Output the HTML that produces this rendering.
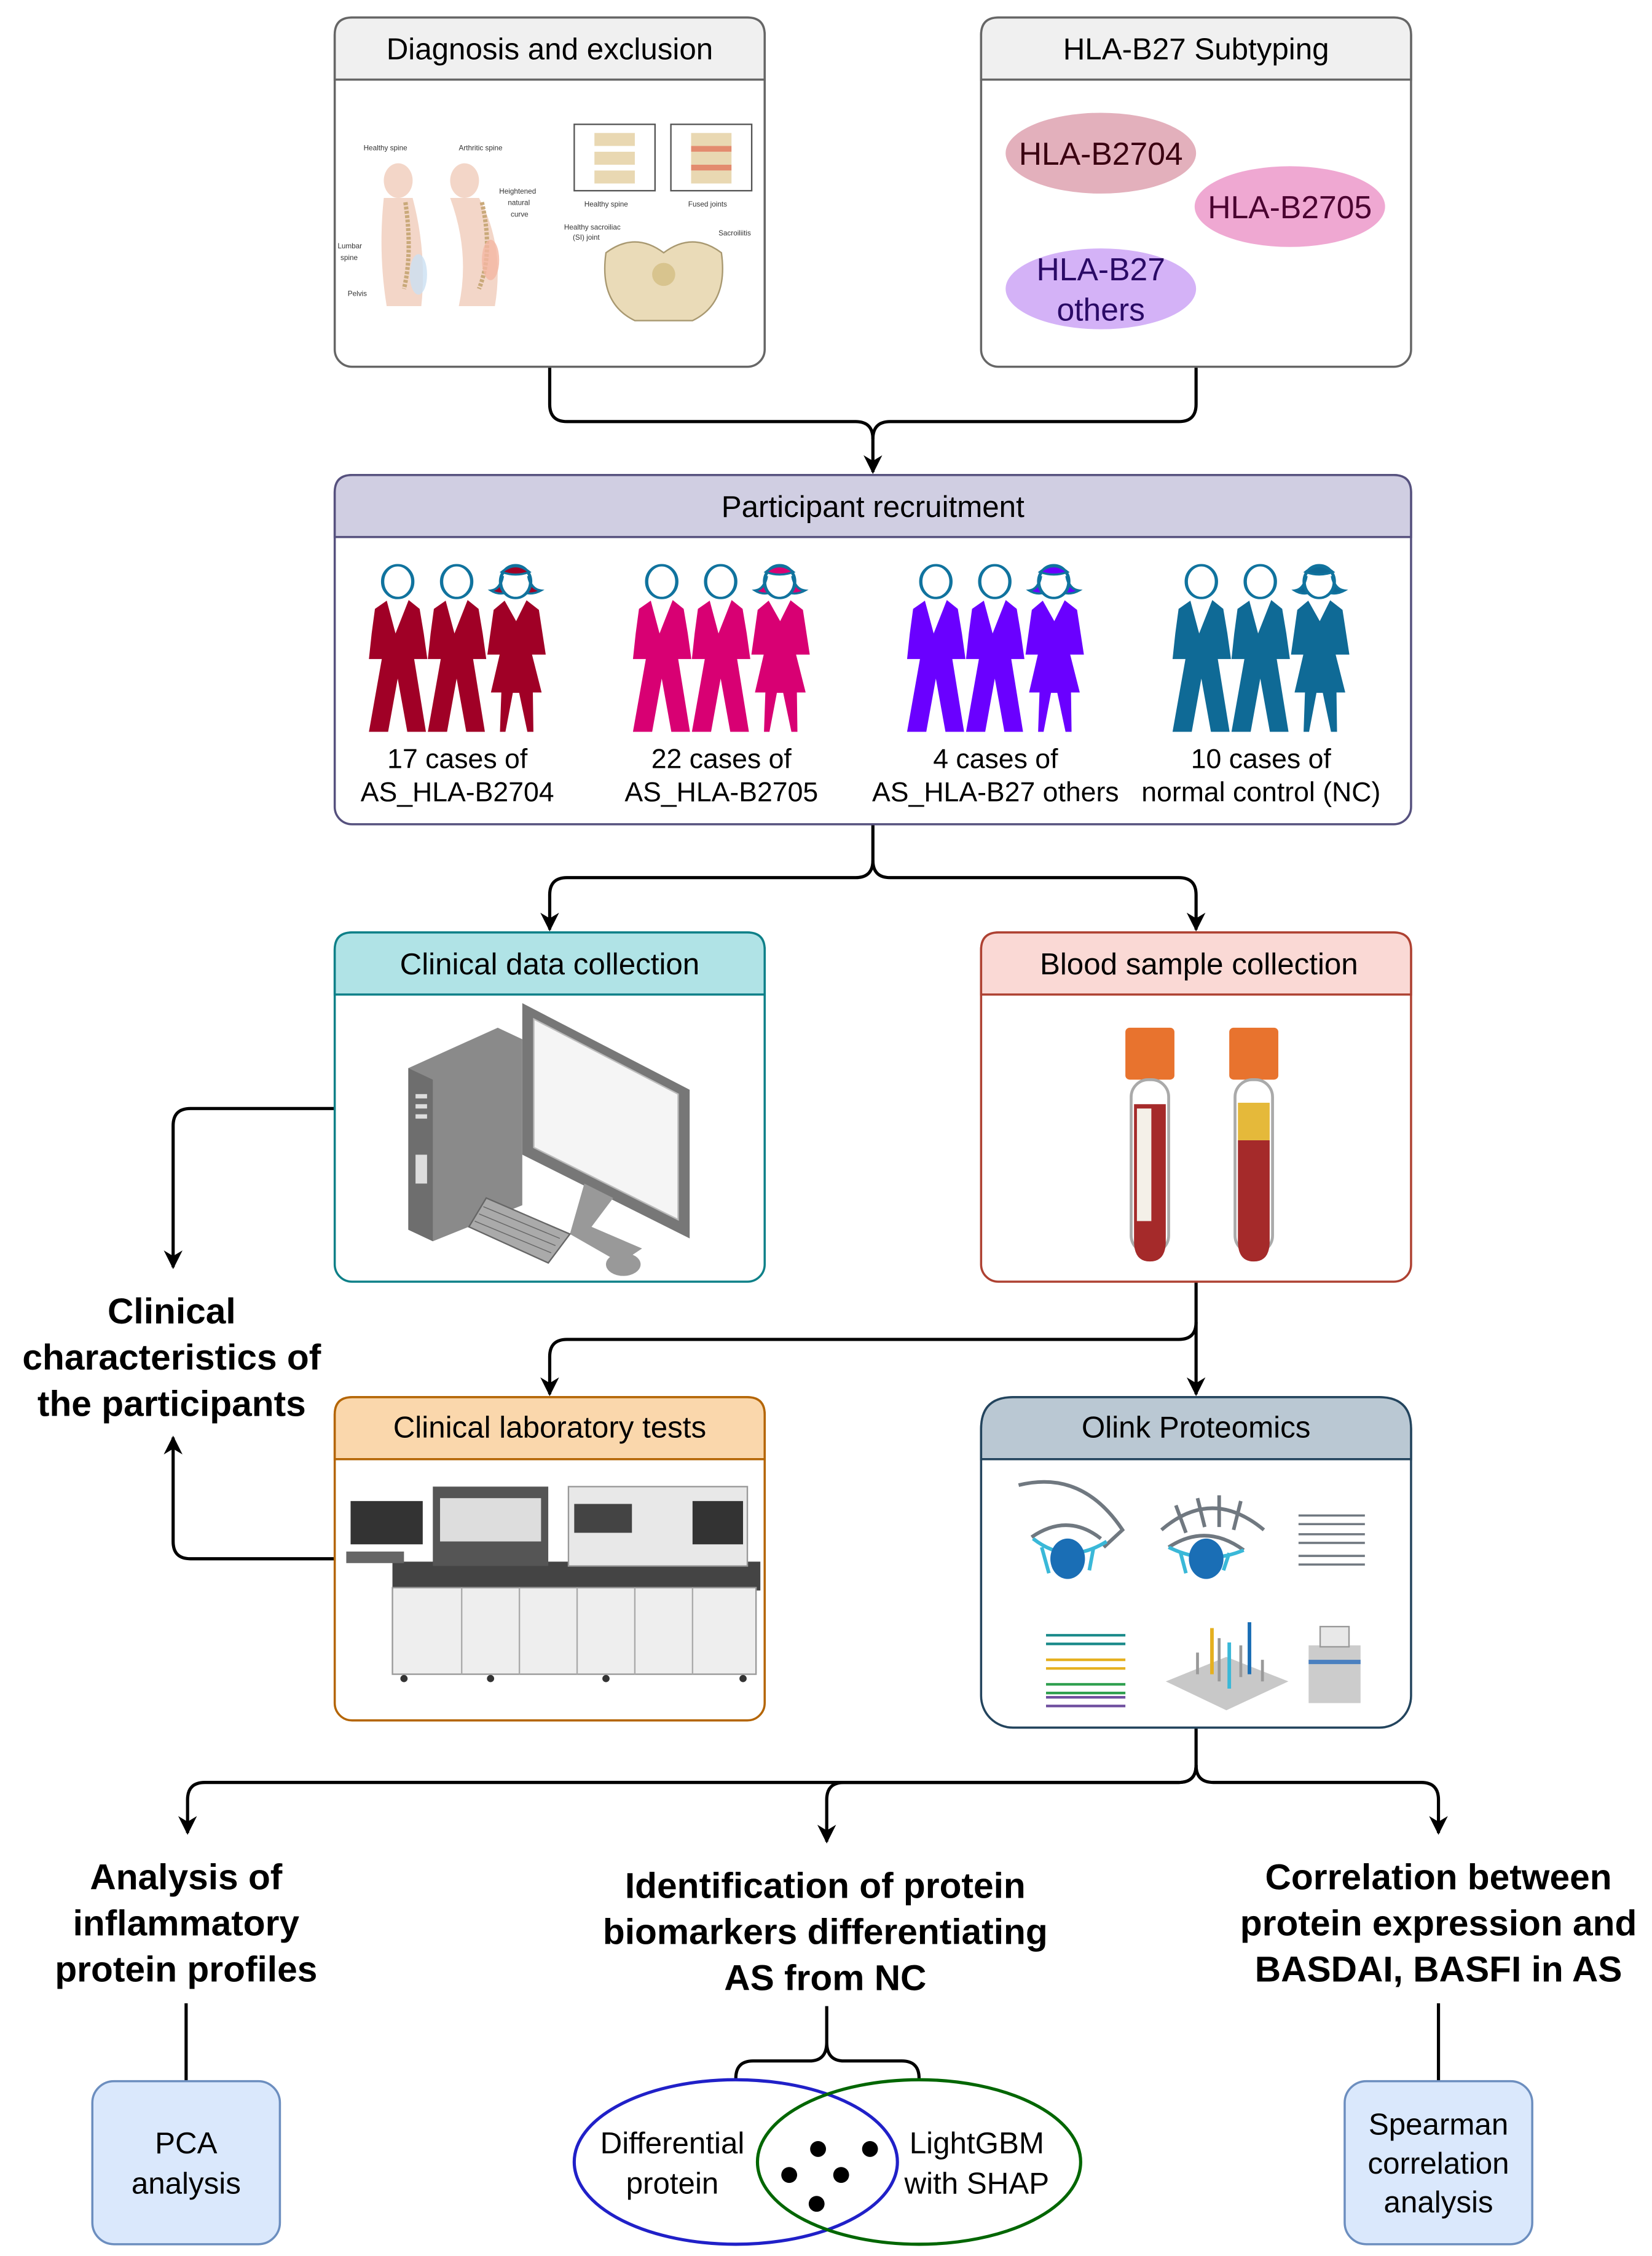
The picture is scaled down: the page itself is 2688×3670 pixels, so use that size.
<!DOCTYPE html>
<html><head><meta charset="utf-8"><style>
html,body{margin:0;padding:0;background:#fff}
svg{display:block}
text{font-family:"Liberation Sans",Arial,sans-serif}
</style></head><body>
<svg width="2688" height="3670" viewBox="0 0 1145 1563" xmlns="http://www.w3.org/2000/svg">
<defs>
<marker id="ar" viewBox="0 0 10 10" refX="9" refY="5" markerWidth="13" markerHeight="13" orient="auto-start-reverse" markerUnits="userSpaceOnUse">
<path d="M0,0 L10,5 L0,10 L3,5 Z" fill="#000"/></marker>
<g id="man">
<polygon points="155,290 187,450 235,287 275,330 290,450 303,575 255,575 298,930 230,930 195,670 160,930 90,930 137,575 90,575 100,450 112,330"/>
<ellipse cx="195" cy="197" rx="55" ry="80" fill="#fff" stroke="#10739E" stroke-width="12"/>
</g>
<g id="woman">
<polygon points="585,290 627,390 665,288 710,335 735,553 685,553 720,738 688,738 690,930 668,930 638,740 615,740 588,930 568,930 573,738 535,738 567,553 522,553 545,335"/>
<path d="M578,170 Q570,235 535,240 Q560,262 590,252 Z M672,170 Q680,235 718,240 Q690,262 660,252 Z"/>
<ellipse cx="625" cy="197" rx="55" ry="80" fill="#fff" stroke="#10739E" stroke-width="12"/>
<path d="M575,150 Q625,95 675,150 Q625,175 575,150 Z" stroke="#10739E" stroke-width="10"/>
<path d="M578,170 Q570,235 535,240 Q560,262 590,252 M672,170 Q680,235 718,240 Q690,262 660,252" fill="none" stroke="#10739E" stroke-width="10"/>
</g>
<g id="grp"><use href="#man"/><use href="#man" x="215"/><use href="#woman"/></g>
</defs>

<g fill="none" stroke="#000" stroke-width="2.2">
<path d="M381,254 V280 Q381,292 393,292 H593 Q605,292 605,304 V327" marker-end="url(#ar)"/>
<path d="M829,254 V280 Q829,292 817,292 H617 Q605,292 605,304"/>
<path d="M605,571 V596 Q605,608 593,608 H393 Q381,608 381,620 V644" marker-end="url(#ar)"/>
<path d="M605,596 Q605,608 617,608 H817 Q829,608 829,620 V644" marker-end="url(#ar)"/>
<path d="M232,768 H132 Q120,768 120,780 V878" marker-end="url(#ar)"/>
<path d="M232,1080 H132 Q120,1080 120,1068 V996" marker-end="url(#ar)"/>
<path d="M829,888 V916 Q829,928 817,928 H393 Q381,928 381,940 V966" marker-end="url(#ar)"/>
<path d="M829,916 V966" marker-end="url(#ar)"/>
<path d="M829,1197 V1223 Q829,1235 817,1235 H142 Q130,1235 130,1247 V1270" marker-end="url(#ar)"/>
<path d="M829,1223 Q829,1235 817,1235 H585 Q573,1235 573,1247 V1276" marker-end="url(#ar)"/>
<path d="M829,1223 Q829,1235 841,1235 H985 Q997,1235 997,1247 V1270" marker-end="url(#ar)"/>
<path d="M129,1388 V1442"/>
<path d="M997,1388 V1442"/>
<path d="M573,1390 V1415 Q573,1428 561,1428 H522 Q510,1428 510,1440 M573,1415 Q573,1428 585,1428 H625 Q637,1428 637,1440"/>
</g>

<g stroke-width="1.5">
<rect x="232" y="12" width="298" height="242" rx="12" fill="#fff" stroke="#666"/>
<path d="M232,55 V24 Q232,12 244,12 H518 Q530,12 530,24 V55 Z" fill="#f0f0f0" stroke="#666"/>
<rect x="680" y="12" width="298" height="242" rx="12" fill="#fff" stroke="#666"/>
<path d="M680,55 V24 Q680,12 692,12 H966 Q978,12 978,24 V55 Z" fill="#f0f0f0" stroke="#666"/>
<rect x="232" y="329" width="746" height="242" rx="12" fill="#fff" stroke="#56517E"/>
<path d="M232,372 V341 Q232,329 244,329 H966 Q978,329 978,341 V372 Z" fill="#D0CEE2" stroke="#56517E"/>
<rect x="232" y="646" width="298" height="242" rx="12" fill="#fff" stroke="#0E8088"/>
<path d="M232,689 V658 Q232,646 244,646 H518 Q530,646 530,658 V689 Z" fill="#B0E3E6" stroke="#0E8088"/>
<rect x="680" y="646" width="298" height="242" rx="12" fill="#fff" stroke="#AE4132"/>
<path d="M680,689 V658 Q680,646 692,646 H966 Q978,646 978,658 V689 Z" fill="#FAD9D5" stroke="#AE4132"/>
<rect x="232" y="968" width="298" height="224" rx="12" fill="#fff" stroke="#B46504"/>
<path d="M232,1011 V980 Q232,968 244,968 H518 Q530,968 530,980 V1011 Z" fill="#FAD7AC" stroke="#B46504"/>
<rect x="680" y="968" width="298" height="229" rx="22" fill="#fff" stroke="#23445D"/>
<path d="M680,1011 V990 Q680,968 702,968 H956 Q978,968 978,990 V1011 Z" fill="#BAC8D3" stroke="#23445D"/>
<rect x="64" y="1442" width="130" height="113" rx="15" fill="#DAE8FC" stroke="#6C8EBF"/>
<rect x="932" y="1442" width="130" height="113" rx="15" fill="#DAE8FC" stroke="#6C8EBF"/>
</g>

<g font-size="21" text-anchor="middle" fill="#000">
<text x="381" y="41">Diagnosis and exclusion</text>
<text x="829" y="41">HLA-B27 Subtyping</text>
<text x="605" y="358">Participant recruitment</text>
<text x="381" y="675">Clinical data collection</text>
<text x="831" y="675">Blood sample collection</text>
<text x="381" y="996">Clinical laboratory tests</text>
<text x="829" y="996">Olink Proteomics</text>
</g>

<ellipse cx="763" cy="106" rx="66" ry="28" fill="#E3B0BC"/>
<ellipse cx="894" cy="143" rx="66" ry="28" fill="#EFA8D2"/>
<ellipse cx="763" cy="200" rx="66" ry="28" fill="#D4B2F7"/>
<g font-size="22" text-anchor="middle">
<text x="763" y="114" fill="#3a0010">HLA-B2704</text>
<text x="894" y="151" fill="#4a0030">HLA-B2705</text>
<text x="763" y="194" fill="#2a0a66">HLA-B27</text>
<text x="763" y="222" fill="#2a0a66">others</text>
</g>

<g font-size="5" fill="#333">
<text x="252" y="104">Healthy spine</text><text x="318" y="104">Arthritic spine</text>
<text x="346" y="134">Heightened</text><text x="352" y="142">natural</text><text x="354" y="150">curve</text>
<text x="234" y="172">Lumbar</text><text x="236" y="180">spine</text><text x="241" y="205">Pelvis</text>
<text x="405" y="143">Healthy spine</text><text x="477" y="143">Fused joints</text>
<text x="391" y="159">Healthy sacroiliac</text><text x="397" y="166">(SI) joint</text><text x="498" y="163">Sacroiliitis</text>
</g>
<g fill="#F3D6C8">
<ellipse cx="276" cy="125" rx="10" ry="12"/><path d="M266,137 Q262,175 268,212 H292 Q296,175 286,137 Z"/>
<ellipse cx="322" cy="125" rx="10" ry="12"/><path d="M312,137 Q326,175 318,212 H343 Q350,170 332,137 Z"/>
</g>
<path d="M281,140 Q286,175 280,200" stroke="#C9A97A" stroke-width="3" fill="none" stroke-dasharray="2 1"/>
<path d="M334,140 Q342,175 332,200" stroke="#C9A97A" stroke-width="3" fill="none" stroke-dasharray="2 1"/>
<ellipse cx="290" cy="190" rx="6" ry="14" fill="#CBE0F2" opacity=".8"/>
<ellipse cx="340" cy="180" rx="6" ry="14" fill="#F4B7A3" opacity=".8"/>
<rect x="398" y="86" width="56" height="46" fill="#fff" stroke="#555"/>
<rect x="465" y="86" width="56" height="46" fill="#fff" stroke="#555"/>
<g fill="#E9D8B2"><rect x="412" y="92" width="28" height="9"/><rect x="412" y="105" width="28" height="9"/><rect x="412" y="118" width="28" height="9"/>
<rect x="479" y="92" width="28" height="9"/><rect x="479" y="105" width="28" height="9"/><rect x="479" y="118" width="28" height="9"/></g>
<g fill="#E38B6E"><rect x="479" y="101" width="28" height="4"/><rect x="479" y="114" width="28" height="4"/></g>
<path d="M420,175 Q440,160 460,175 Q480,160 500,175 Q505,210 480,222 H440 Q415,210 420,175 Z" fill="#EADBB8" stroke="#A89870"/>
<circle cx="460" cy="190" r="8" fill="#D8C48E"/>

<g transform="translate(238.6,374.9) scale(0.190,0.142)" fill="#A00026"><use href="#grp"/></g>
<g transform="translate(421.6,374.9) scale(0.190,0.142)" fill="#D80073"><use href="#grp"/></g>
<g transform="translate(611.6,374.9) scale(0.190,0.142)" fill="#6A00FF"><use href="#grp"/></g>
<g transform="translate(795.6,374.9) scale(0.190,0.142)" fill="#0F6A96"><use href="#grp"/></g>
<g font-size="19" text-anchor="middle">
<text x="317" y="532">17 cases of</text><text x="317" y="555">AS_HLA-B2704</text>
<text x="500" y="532">22 cases of</text><text x="500" y="555">AS_HLA-B2705</text>
<text x="690" y="532">4 cases of</text><text x="690" y="555">AS_HLA-B27 others</text>
<text x="874" y="532">10 cases of</text><text x="874" y="555">normal control (NC)</text>
</g>

<path d="M283,740 L345,712 L362,720 L362,835 L300,860 L283,852 Z" fill="#8a8a8a"/>
<path d="M283,740 L300,748 L300,860 L283,852 Z" fill="#6e6e6e"/>
<g fill="#ddd"><rect x="288" y="758" width="8" height="3"/><rect x="288" y="765" width="8" height="3"/><rect x="288" y="772" width="8" height="3"/><rect x="288" y="800" width="8" height="20"/></g>
<path d="M362,695 L478,755 L478,858 L362,800 Z" fill="#777"/>
<path d="M370,706 L470,758 L470,845 L370,795 Z" fill="#f5f5f5" stroke="#bbb"/>
<path d="M405,820 L425,830 L410,850 L445,865 L430,875 L395,855 Z" fill="#999"/>
<path d="M337,830 L395,855 L380,875 L325,850 Z" fill="#aaa" stroke="#666"/>
<g stroke="#666" stroke-width=".6"><path d="M335,836 L388,858 M332,841 L385,863 M329,846 L382,868"/></g>
<ellipse cx="432" cy="876" rx="12" ry="8" fill="#999"/>

<g>
<rect x="780" y="712" width="34" height="36" rx="3" fill="#E8732E"/>
<rect x="852" y="712" width="34" height="36" rx="3" fill="#E8732E"/>
<rect x="784" y="748" width="26" height="120" rx="12" fill="#fff" stroke="#aaa" stroke-width="2"/>
<rect x="856" y="748" width="26" height="120" rx="12" fill="#fff" stroke="#aaa" stroke-width="2"/>
<path d="M786,765 H808 V860 Q808,874 797,874 Q786,874 786,860 Z" fill="#A52A2A"/>
<rect x="788" y="768" width="10" height="78" fill="#f4f0e8"/>
<rect x="858" y="764" width="22" height="26" fill="#E5B93A"/>
<path d="M858,790 H880 V860 Q880,874 869,874 Q858,874 858,860 Z" fill="#A52A2A"/>
</g>

<rect x="272" y="1082" width="255" height="20" fill="#444"/>
<rect x="272" y="1100" width="252" height="60" fill="#eee" stroke="#999"/>
<rect x="300" y="1030" width="80" height="55" fill="#555"/><rect x="305" y="1038" width="70" height="30" fill="#ddd"/>
<rect x="394" y="1030" width="124" height="55" fill="#e8e8e8" stroke="#999"/>
<rect x="398" y="1042" width="40" height="20" fill="#444"/><rect x="480" y="1040" width="35" height="30" fill="#333"/>
<rect x="243" y="1040" width="50" height="30" fill="#333"/><rect x="240" y="1075" width="40" height="8" fill="#666"/>
<g stroke="#aaa"><path d="M320,1100 V1160 M360,1100 V1160 M400,1100 V1160 M440,1100 V1160 M480,1100 V1160"/></g>
<g fill="#333"><circle cx="280" cy="1163" r="2.5"/><circle cx="340" cy="1163" r="2.5"/><circle cx="420" cy="1163" r="2.5"/><circle cx="515" cy="1163" r="2.5"/></g>

<g fill="none" stroke="#707880" stroke-width="2.5">
<path d="M706,1029 Q750,1018 778,1060 L765,1072"/>
<path d="M715,1065 Q740,1048 763,1066"/>
<path d="M805,1060 Q840,1030 876,1060"/>
<path d="M815,1043 L822,1062 M830,1038 L835,1058 M845,1036 L845,1058 M860,1040 L855,1060"/>
<path d="M810,1072 Q836,1055 862,1074"/>
</g>
<g stroke="#3ab8d8" stroke-width="2.5" fill="none"><path d="M716,1066 Q740,1085 767,1068 M722,1072 L727,1090 M758,1072 L755,1088 M810,1072 Q836,1085 862,1074 M818,1075 L822,1090 M852,1076 L848,1088"/></g>
<ellipse cx="740" cy="1080" rx="12" ry="14" fill="#1A6EB5"/>
<ellipse cx="836" cy="1080" rx="12" ry="14" fill="#1A6EB5"/>
<g stroke="#707880" stroke-width="1.5"><path d="M900,1050 H946 M900,1056 H946 M900,1063 H946 M900,1069 H946 M900,1078 H946 M900,1084 H946"/></g>
<g stroke-width="1.8"><path d="M725,1133 H780 M725,1139 H780" stroke="#1a8a8a"/><path d="M725,1150 H780 M725,1156 H780" stroke="#E5B020"/><path d="M725,1167 H780 M725,1173 H780" stroke="#30A050"/><path d="M725,1176 H780 M725,1182 H780" stroke="#7050A0"/></g>
<path d="M808,1165 L850,1148 L893,1165 L850,1185 Z" fill="#c8c8c8"/>
<g stroke="#999" stroke-width="2"><path d="M830,1160 V1145 M845,1165 V1135 M860,1162 V1140 M875,1165 V1150"/></g>
<path d="M840,1160 V1128" stroke="#E5B020" stroke-width="2.5"/><path d="M852,1170 V1138" stroke="#3ab8d8" stroke-width="2.5"/><path d="M866,1160 V1124" stroke="#1A6EB5" stroke-width="2.5"/>
<rect x="907" y="1140" width="36" height="40" fill="#ccc"/><rect x="915" y="1127" width="20" height="14" fill="#e8e8e8" stroke="#999"/><rect x="907" y="1150" width="36" height="3" fill="#4A80C0"/>

<g font-size="25" font-weight="bold" text-anchor="middle">
<text x="119" y="917">Clinical</text><text x="119" y="949">characteristics of</text><text x="119" y="981">the participants</text>
<text x="129" y="1309">Analysis of</text><text x="129" y="1341">inflammatory</text><text x="129" y="1373">protein profiles</text>
<text x="572" y="1315">Identification of protein</text><text x="572" y="1347">biomarkers differentiating</text><text x="572" y="1379">AS from NC</text>
<text x="997" y="1309">Correlation between</text><text x="997" y="1341">protein expression and</text><text x="997" y="1373">BASDAI, BASFI in AS</text>
</g>
<g font-size="21" text-anchor="middle">
<text x="129" y="1492">PCA</text><text x="129" y="1520">analysis</text>
<text x="997" y="1479">Spearman</text><text x="997" y="1506">correlation</text><text x="997" y="1533">analysis</text>
<text x="466" y="1492">Differential</text><text x="466" y="1520">protein</text>
<text x="677" y="1492">LightGBM</text><text x="677" y="1520">with SHAP</text>
</g>
<ellipse cx="510" cy="1498" rx="112" ry="57" fill="none" stroke="#2020C8" stroke-width="2.2"/>
<ellipse cx="637" cy="1498" rx="112" ry="57" fill="none" stroke="#006600" stroke-width="2.2"/>
<g fill="#000"><circle cx="567" cy="1489" r="5.5"/><circle cx="603" cy="1489" r="5.5"/><circle cx="547" cy="1507" r="5.5"/><circle cx="583" cy="1507" r="5.5"/><circle cx="566" cy="1527" r="5.5"/></g>
</svg>
</body></html>
